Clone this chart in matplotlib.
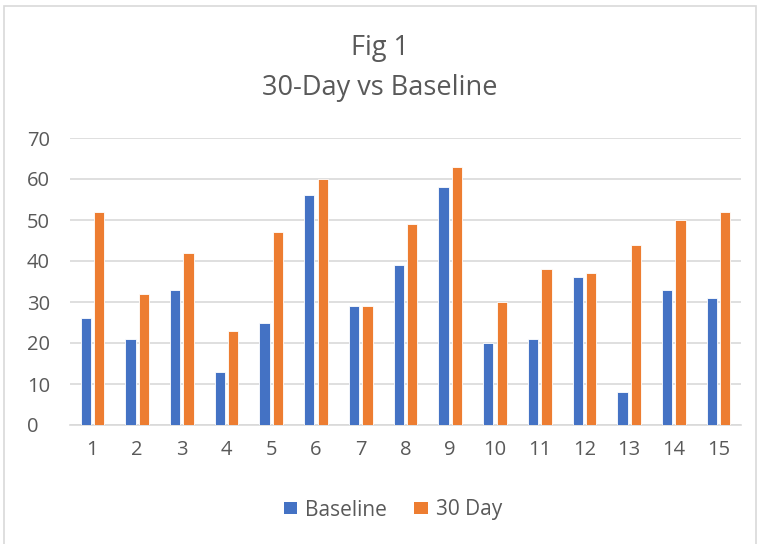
import matplotlib
matplotlib.use('Agg')
import matplotlib.pyplot as plt
import numpy as np
from matplotlib.patches import Rectangle

categories = [str(i) for i in range(1, 16)]
baseline = [26, 21, 33, 13, 25, 56, 29, 39, 58, 20, 21, 36, 8, 33, 31]
day30 = [52, 32, 42, 23, 47, 60, 29, 49, 63, 30, 38, 37, 44, 50, 52]

blue = '#4472c4'
orange = '#ed7d31'
text_grey = '#595959'
grid_grey = '#d9d9d9'

plt.rcParams['font.family'] = ['Open Sans', 'DejaVu Sans']

fig = plt.figure(figsize=(7.6, 5.44), dpi=100)
W, H = 760, 544
# plot area in pixel coords: left 70, right 741, top 138, bottom 425
ax = fig.add_axes([70 / W, 1 - 425 / H, (741 - 70) / W, (425 - 138) / H])

# outer chart border
fig.patches.append(Rectangle((4 / W, -0.01), (756 - 4) / W, 1 - 6 / H + 0.01,
                             transform=fig.transFigure, fill=False,
                             edgecolor='#d9d9d9', linewidth=1.2))

x = np.arange(len(categories))
bw = 0.23
gap = 0.035
ax.bar(x - bw / 2 - gap, baseline, width=bw, color=blue, edgecolor='white',
       linewidth=0.6, label='Baseline', zorder=3)
ax.bar(x + bw / 2 + gap, day30, width=bw, color=orange, edgecolor='white',
       linewidth=0.6, label='30 Day', zorder=3)

ax.set_xlim(-0.5, len(categories) - 0.5)
ax.set_ylim(0, 70)
ax.set_yticks(range(0, 71, 10))
ax.set_xticks(x)
ax.set_xticklabels(categories)
ax.yaxis.grid(True, color=grid_grey, linewidth=1.2, zorder=0)
ax.set_axisbelow(True)
for s in ['top', 'right', 'left']:
    ax.spines[s].set_visible(False)
ax.spines['bottom'].set_color(grid_grey)
ax.spines['bottom'].set_linewidth(1.2)
ax.tick_params(axis='both', length=0, labelsize=14.5, colors=text_grey)
ax.tick_params(axis='y', pad=31)
ax.tick_params(axis='x', pad=11)
for lbl in ax.get_yticklabels():
    lbl.set_horizontalalignment('left')

fig.text(0.5, 1 - 48 / H, 'Fig 1', ha='center', va='center', fontsize=19.5, color=text_grey)
fig.text(0.5, 1 - 88 / H, '30-Day vs Baseline', ha='center', va='center', fontsize=19.5, color=text_grey)

leg = fig.legend(loc='center', bbox_to_anchor=(393 / W, 1 - 510 / H), ncol=2, frameon=False,
                 fontsize=15, labelcolor=text_grey, handlelength=0.65, handleheight=0.45,
                 handletextpad=0.4, columnspacing=1.3)
for h in leg.legend_handles:
    h.set_edgecolor('none')

fig.savefig('out.png', dpi=100, facecolor='white')
